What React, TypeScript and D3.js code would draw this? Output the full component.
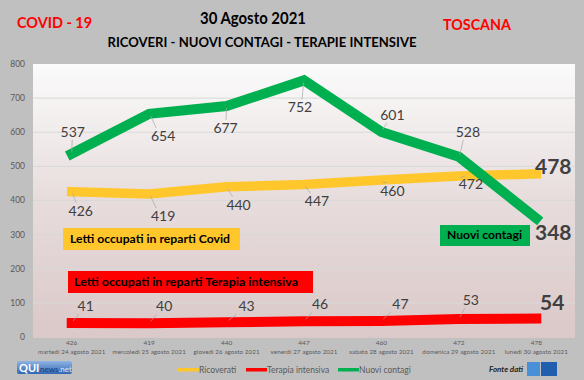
import React from "react";
import * as d3 from "d3";

const categories = [
  "martedì 24 agosto 2021",
  "mercoledì 25 agosto 2021",
  "giovedì 26 agosto 2021",
  "venerdì 27 agosto 2021",
  "sabato 28 agosto 2021",
  "domenica 29 agosto 2021",
  "lunedì 30 agosto 2021",
];
const ricoverati = [426, 419, 440, 447, 460, 472, 478];
const terapiaIntensiva = [41, 40, 43, 46, 47, 53, 54];
const nuoviContagi = [537, 654, 677, 752, 601, 528, 348];
const yTicks = [0, 100, 200, 300, 400, 500, 600, 700, 800];

// label offsets (layout only)
const greenOff: [number, number][] = [[1, -22], [14, 22], [-1, 22], [-4, 27], [11, -17], [9, -25]];
const yellowOff: [number, number][] = [[9, 19], [14, 22], [12, 18], [13, 17], [11, 11], [12, 8]];
const redOff: [number, number][] = [[14, -17], [15, -17], [20, -16], [16, -17], [19, -17], [12, -19]];

const W = 584, H = 380;
const plot = { left: 33, right: 575, top: 64, bottom: 337 };

export default function App() {
  const x = d3.scaleBand<string>().domain(categories).range([plot.left, plot.right]).padding(0);
  const cx = (i: number) => (x(categories[i]) as number) + x.bandwidth() / 2;
  const y = d3.scaleLinear().domain([0, 800]).range([plot.bottom, plot.top]);
  const line = d3.line<number>().x((_, i) => cx(i)).y((d) => y(d));

  const series = [
    { data: ricoverati, color: "#ffc72c", off: yellowOff, w: 9.5 },
    { data: terapiaIntensiva, color: "#ff0000", off: redOff, w: 10 },
    { data: nuoviContagi, color: "#00b050", off: greenOff, w: 10 },
  ];

  const labelFont = "Lato, 'Open Sans', sans-serif";

  return (
    <svg width={W} height={H} style={{ position: "absolute", left: 0, top: 0 }} xmlns="http://www.w3.org/2000/svg">
      <defs>
        <linearGradient id="plotbg" x1="0" y1="0" x2="0" y2="1">
          <stop offset="0%" stopColor="#fbfbfb" />
          <stop offset="50%" stopColor="#e7dcdc" />
          <stop offset="100%" stopColor="#dbc8c8" />
        </linearGradient>
        <linearGradient id="qui" x1="0" y1="0" x2="0" y2="1">
          <stop offset="0%" stopColor="#8fb4e3" />
          <stop offset="100%" stopColor="#2f66b3" />
        </linearGradient>
      </defs>
      <rect x={0} y={0} width={W} height={H} fill="#c0c0c0" />
      <rect x={plot.left} y={plot.top} width={plot.right - plot.left} height={plot.bottom - plot.top + 1} fill="url(#plotbg)" />
      {yTicks.map((t) => (
        <g key={t}>
          {t > 0 && t < 800 && (
            <line x1={plot.left} x2={plot.right} y1={y(t)} y2={y(t)} stroke="#d9d9d9" strokeWidth={1} />
          )}
          <text x={25} y={y(t)} dy="0.35em" textAnchor="end" fontSize={8.5} fill="#595959" fontFamily={labelFont}>
            {t}
          </text>
        </g>
      ))}
      {/* x axis labels */}
      {categories.map((c, i) => (
        <g key={c}>
          <text x={cx(i)} y={345} textAnchor="middle" fontSize={6.5} fill="#595959" fontFamily={labelFont}>
            {ricoverati[i]}
          </text>
          <text x={cx(i)} y={354} textAnchor="middle" fontSize={6.2} fill="#595959" fontFamily={labelFont} letterSpacing={0.1}>
            {c}
          </text>
        </g>
      ))}
      {/* lines */}
      {series.map((s, k) => (
        <path key={k} d={line(s.data) as string} fill="none" stroke={s.color} strokeWidth={s.w} strokeLinecap="square" strokeLinejoin="miter" />
      ))}
      {/* leader lines and labels */}
      {series.map((s, k) =>
        s.data.slice(0, 6).map((v, i) => {
          const px = cx(i), py = y(v);
          const [dx, dy] = s.off[i];
          const lx = px + dx, ly = py + dy;
          const ey = dy < 0 ? ly + 8 : ly - 8;
          const ex = px + dx * 0.5;
          return (
            <g key={`${k}-${i}`}>
              <line x1={px + dx * 0.1} y1={py + (dy < 0 ? -2 : 2)} x2={ex} y2={ey} stroke="#a6a6a6" strokeWidth={0.7} />
              <text x={lx} y={ly} dy="0.35em" textAnchor="middle" fontSize={14} fill="#404040" fontFamily={labelFont}>
                {v}
              </text>
            </g>
          );
        })
      )}
      {/* final labels */}
      <text x={cx(6) + 17} y={y(ricoverati[6]) - 7} dy="0.35em" textAnchor="middle" fontSize={21} fontWeight="bold" fill="#404040" fontFamily={labelFont}>
        {ricoverati[6]}
      </text>
      <text x={cx(6) + 17} y={y(nuoviContagi[6]) + 14} dy="0.35em" textAnchor="middle" fontSize={21} fontWeight="bold" fill="#404040" fontFamily={labelFont}>
        {nuoviContagi[6]}
      </text>
      <text x={cx(6) + 16} y={y(terapiaIntensiva[6]) - 16} dy="0.35em" textAnchor="middle" fontSize={21} fontWeight="bold" fill="#404040" fontFamily={labelFont}>
        {terapiaIntensiva[6]}
      </text>
      {/* annotation boxes */}
      <rect x={63} y={228} width={177} height={22} fill="#ffc72c" />
      <text x={70} y={239} dy="0.35em" fontSize={11} fontWeight="bold" fill="#000" fontFamily={labelFont} textLength={160} lengthAdjust="spacingAndGlyphs">
        Letti occupati in reparti Covid
      </text>
      <rect x={68} y={271} width={245} height={22} fill="#ff0000" />
      <text x={74} y={282} dy="0.35em" fontSize={11} fontWeight="bold" fill="#000" fontFamily={labelFont} textLength={224} lengthAdjust="spacingAndGlyphs">
        Letti occupati in reparti Terapia intensiva
      </text>
      <rect x={440} y={225} width={90} height={21} fill="#00b050" />
      <text x={447} y={235.5} dy="0.35em" fontSize={11} fontWeight="bold" fill="#000" fontFamily={labelFont} textLength={75} lengthAdjust="spacingAndGlyphs">
        Nuovi contagi
      </text>
      {/* titles */}
      <text x={253} y={24} textAnchor="middle" fontSize={17} fontWeight="bold" fill="#000" fontFamily={labelFont} textLength={106} lengthAdjust="spacingAndGlyphs">
        30 Agosto 2021
      </text>
      <text x={262} y={47} textAnchor="middle" fontSize={13.5} fontWeight="bold" fill="#000" fontFamily={labelFont} textLength={309} lengthAdjust="spacingAndGlyphs">
        RICOVERI - NUOVI CONTAGI - TERAPIE INTENSIVE
      </text>
      <text x={17} y={28} fontSize={16} fontWeight="bold" fill="#ff0000" fontFamily={labelFont} textLength={75} lengthAdjust="spacingAndGlyphs">
        COVID - 19
      </text>
      <text x={443} y={30} fontSize={16} fontWeight="bold" fill="#ff0000" fontFamily={labelFont} textLength={68} lengthAdjust="spacingAndGlyphs">
        TOSCANA
      </text>
      {/* legend */}
      {[
        { c: "#ffc72c", t: "Ricoverati", x: 178 },
        { c: "#ff0000", t: "Terapia intensiva", x: 246 },
        { c: "#00b050", t: "Nuovi contagi", x: 338 },
      ].map((l) => (
        <g key={l.t}>
          <rect x={l.x} y={368} width={21} height={3.5} fill={l.c} />
          <text x={l.x + 21} y={373} fontSize={8.5} fill="#595959" fontFamily={labelFont}>
            {l.t}
          </text>
        </g>
      ))}
      <text x={489} y={372} fontSize={8} fontStyle="italic" fontWeight="bold" fill="#262626" fontFamily={labelFont}>
        Fonte dati
      </text>
      <rect x={527} y={362} width={13} height={14} fill="#4a90d9" />
      <rect x={541} y={362} width={16} height={14} fill="#1f5fae" />
      {/* QUInews logo */}
      <rect x={17} y={361} width={55} height={13} rx={2} fill="url(#qui)" />
      <text x={19} y={372} fontSize={11} fontWeight="bold" fill="#fff" fontFamily={labelFont}>
        QUI
      </text>
      <text x={40} y={372} fontSize={8} fill="#1a3d7a" fontFamily={labelFont}>
        news<tspan fill="#dbe8f7">.net</tspan>
      </text>
    </svg>
  );
}
